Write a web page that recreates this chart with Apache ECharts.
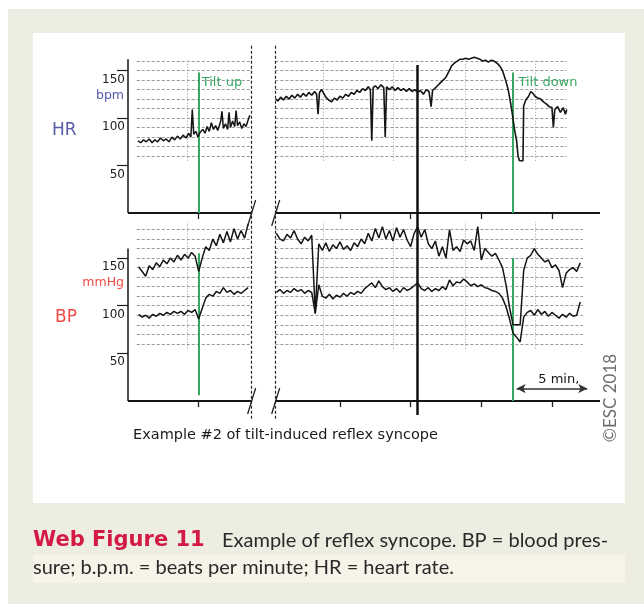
<!DOCTYPE html>
<html><head><meta charset="utf-8">
<script src="https://cdn.jsdelivr.net/npm/echarts@6.0.0/dist/echarts.min.js"></script>
<style>
html,body{margin:0;padding:0;background:#fff;}
#outer{position:absolute;left:8px;top:9px;width:636px;height:595px;background:#eeede2;}
#panel{position:absolute;left:33px;top:33px;width:592px;height:470px;background:#fff;}
#band{position:absolute;left:33px;top:555px;width:592px;height:28px;background:#f6f3e8;}
#chart{position:absolute;left:0;top:0;width:644px;height:604px;}
</style></head><body>
<div id="outer"></div><div id="panel"></div><div id="band"></div>
<div id="chart"></div>
<script>
// ---------- DATA (minutes on x, bpm / mmHg on y) ----------
const hrSeg1 = [[0.7,76],[0.9,74],[1.1,77],[1.3,75],[1.5,78],[1.7,74],[1.9,77],[2.1,75],[2.3,79],[2.5,76],[2.7,78],[2.9,75],[3.1,80],[3.3,77],[3.5,81],[3.7,78],[3.9,82],[4.1,79],[4.3,84],[4.45,80],[4.55,109],[4.65,83],[4.8,86],[4.95,80],[5.1,85],[5.3,88],[5.45,84],[5.6,91],[5.75,86],[5.9,95],[6.05,88],[6.2,92],[6.35,87],[6.55,96],[6.65,107],[6.75,89],[6.9,94],[7.05,88],[7.15,106],[7.25,90],[7.4,97],[7.55,91],[7.65,108],[7.75,92],[7.9,96],[8.05,89],[8.2,94],[8.35,91],[8.5,98],[8.62,103]];
const hrSeg2 = [[10.45,120],[10.6,118],[10.8,122],[11.0,119],[11.2,123],[11.4,120],[11.6,124],[11.8,121],[12.0,125],[12.2,122],[12.4,126],[12.6,123],[12.8,127],[13.0,124],[13.2,128],[13.35,125],[13.45,104],[13.55,127],[13.7,130],[13.85,126],[14.0,122],[14.2,119],[14.4,117],[14.6,121],[14.8,119],[15.0,123],[15.2,121],[15.4,125],[15.6,123],[15.8,127],[16.0,125],[16.2,129],[16.4,127],[16.6,131],[16.8,129],[17.0,133],[17.15,130],[17.25,76],[17.35,132],[17.5,134],[17.7,131],[17.9,135],[18.1,132],[18.2,80],[18.3,133],[18.5,130],[18.7,133],[18.9,129],[19.1,132],[19.3,129],[19.5,131],[19.7,128],[19.9,131],[20.1,128],[20.3,130],[20.5,127],[20.7,129],[20.9,125],[21.1,130],[21.3,128],[21.45,112],[21.55,129],[21.7,131],[21.9,134],[22.1,137],[22.3,140],[22.5,143],[22.7,149],[22.9,155],[23.1,158],[23.3,160],[23.5,162],[23.7,162],[23.9,163],[24.1,162],[24.3,163],[24.5,164],[24.7,163],[24.9,162],[25.1,160],[25.3,161],[25.5,159],[25.7,161],[25.9,160],[26.1,158],[26.3,155],[26.5,150],[26.7,141],[26.9,130],[27.05,118],[27.2,104],[27.35,88],[27.5,76],[27.6,60],[27.7,55],[27.95,55],[28.0,113],[28.15,119],[28.35,123],[28.5,128],[28.65,126],[28.8,123],[29.0,121],[29.2,120],[29.4,117],[29.6,115],[29.8,112],[30.0,111],[30.1,90],[30.2,109],[30.4,112],[30.6,106],[30.8,111],[30.95,104],[31.05,109]];

const bpStep = 0.25;
const bpSeg1Start = 0.75;
const bpSeg2Start = 10.5;
const bpSysSeg1 = [141,136,131,142,138,145,141,148,144,150,146,153,148,154,150,156,152,136,150,162,158,170,163,175,166,178,167,181,170,179,171,186];
const bpDiaSeg1 = [91,88,90,87,91,89,92,90,93,91,94,92,94,91,95,93,96,86,97,108,112,110,115,113,119,114,116,112,115,113,116,119];
const bpSysSeg2 = [176,170,168,175,171,179,170,165,172,168,174,92,165,158,166,157,164,160,167,159,163,158,166,162,170,165,176,168,181,171,183,170,179,168,182,172,180,169,162,176,183,172,180,165,160,168,152,162,150,180,158,162,157,169,165,168,158,183,148,160,156,152,155,148,140,122,98,80,80,80,137,150,153,160,154,150,146,148,140,143,137,119,134,138,140,136,145];
const bpDiaSeg2 = [114,117,113,116,114,118,115,117,113,116,114,92,122,110,108,112,107,111,109,113,110,114,112,115,113,118,121,124,119,126,120,117,119,115,118,114,119,116,118,121,124,118,116,119,115,118,116,120,117,127,121,125,124,128,125,121,123,120,122,119,118,116,115,113,108,99,86,71,67,62,88,93,95,90,96,91,94,89,93,90,87,91,88,92,89,90,104];

const yTicks = [50, 100, 150];
const xTicks = [5, 15, 20, 25, 30];
const hrGridLevels = [60,70,80,90,100,110,120,130,140,150,160];
const bpGridLevels = [60,70,80,90,100,110,120,130,140,150,160,170,180];
const timeGridLines = [4.2, 13.8, 18.8, 23.85, 28.85];
const tiltUp = 5.0, tiltDown = 27.2, markerTime = 20.5;
const breakStart = 8.7, breakEnd = 10.43;
const slashTimes = [8.75, 10.45];
const scaleBar = [27.5, 32.5];
const X_MAX = 33.4;

// ---------- BUILD ----------
const F = "'DejaVu Sans', Verdana, sans-serif";
const INK = '#151515';
const GREEN = '#35a862';
const GRIDC = '#9a9a9a';

function pairs(start, vals){ return vals.map((v,i)=>[start + i*bpStep, v]); }

function xAx(gi, ticks){
  return {type:'value', gridIndex:gi, min:0, max:X_MAX, axisLine:{show:false}, splitLine:{show:false},
    axisLabel:{show:false}, axisTick:{show:ticks, customValues:xTicks, length:6, lineStyle:{color:'#222', width:1.3}}};
}
function yAx(gi, max){
  return {type:'value', gridIndex:gi, min:0, max:max, axisLine:{show:false}, splitLine:{show:false},
    axisTick:{show:true, customValues:yTicks, length:11, lineStyle:{color:'#222', width:1.2}},
    axisLabel:{show:true, customValues:yTicks, margin:3, verticalAlign:'top', padding:[3,0,0,0],
      fontFamily:F, fontSize:12, color:'#1a1a1a'}};
}
function seg(a, b, style){ return [{coord:a, lineStyle:style}, {coord:b}]; }
function markLines(data){ return {silent:true, symbol:['none','none'], label:{show:false}, emphasis:{disabled:true}, animation:false, data}; }

function gridLines(levels, tEnd, vLow, vHigh){
  const out = [];
  const hs = {color:GRIDC, width:1, type:[3,2]};
  levels.forEach(l=>{
    out.push(seg([0.62,l],[breakStart,l],hs));
    out.push(seg([breakEnd,l],[tEnd,l],hs));
  });
  const vs = {color:GRIDC, width:1, type:[1,2]};
  timeGridLines.forEach(t=> out.push(seg([t,vLow],[t,vHigh],vs)));
  return out;
}
function axisLines(yTop){
  const s = {color:INK, width:1.8, type:'solid'};
  return [seg([0,0],[0,yTop],{color:INK,width:1.5,type:'solid'}), seg([0,0],[breakStart,0],s), seg([breakEnd,0],[X_MAX,0],s)];
}

function trace(xi, data, w){
  return {type:'line', xAxisIndex:xi, yAxisIndex:xi, data, symbol:'none', showSymbol:false, z:5,
    lineStyle:{color:INK, width:w}, emphasis:{disabled:true}, silent:true, animation:false};
}
function holder(xi, ml, z, extra){
  return Object.assign({type:'line', xAxisIndex:xi, yAxisIndex:xi, data:[], symbol:'none', z:z, silent:true, animation:false, markLine:ml}, extra||{});
}
function slashes(xi){
  return {type:'custom', xAxisIndex:xi, yAxisIndex:xi, z:6, silent:true, animation:false,
    data: slashTimes.map(t=>[t,0]),
    renderItem:function(params, api){
      const p = api.coord([api.value(0), api.value(1)]);
      return {type:'line', shape:{x1:p[0]-4, y1:p[1]+13, x2:p[0]+4, y2:p[1]-13}, style:{stroke:'#222', lineWidth:1.3}};
    }};
}

const OV = {top:40, height:380, breakTop:0.985, breakBottom:0, markerTop:0.934, markerBottom:0.013};

const option = {
  animation:false,
  backgroundColor:'transparent',
  grid:[
    {left:128, top:44, width:472, height:169},
    {left:128, top:220, width:472, height:181},
    {left:128, top:OV.top, width:472, height:OV.height}
  ],
  xAxis:[xAx(0,true), xAx(1,true), Object.assign(xAx(2,false), {show:false})],
  yAxis:[yAx(0,178), yAx(1,190), {type:'value', gridIndex:2, min:0, max:1, show:false}],
  series:[
    holder(0, markLines(gridLines(hrGridLevels, 31.05, 55, 162)), 1),
    holder(1, markLines(gridLines(bpGridLevels, 32.2, 55, 188)), 1),
    holder(0, markLines(axisLines(162).concat([seg([tiltUp,148],[tiltUp,0],{color:GREEN,width:2,type:'solid'}), seg([tiltDown,148],[tiltDown,0],{color:GREEN,width:2,type:'solid'})])), 4, {
      markPoint:{silent:true, symbol:'circle', symbolSize:0, animation:false,
        label:{show:true, position:'right', formatter:'{b}', color:GREEN, fontFamily:F, fontSize:13},
        data:[{name:'Tilt up', coord:[tiltUp,137], label:{distance:3}}, {name:'Tilt down', coord:[tiltDown,137], label:{distance:6}}]}
    }),
    holder(1, markLines(axisLines(160).concat([seg([tiltUp,155],[tiltUp,6],{color:GREEN,width:2,type:'solid'}), seg([tiltDown,150],[tiltDown,0],{color:GREEN,width:2,type:'solid'})])), 4),
    holder(1, {silent:true, symbol:['arrow','arrow'], symbolSize:[7,9], animation:false,
      label:{show:true, position:'insideEndTop', formatter:'5 min,', color:INK, fontFamily:F, fontSize:13, distance:[8,2]},
      data:[[{coord:[scaleBar[0],13], lineStyle:{color:'#333', width:1.5, type:'solid'}},{coord:[scaleBar[1],13]}]]}, 4),
    holder(2, markLines([
      seg([breakStart+0.05,OV.breakTop],[breakStart+0.05,OV.breakBottom],{color:'#222',width:1.2,type:[3,2]}),
      seg([breakEnd,OV.breakTop],[breakEnd,OV.breakBottom],{color:'#222',width:1.2,type:[3,2]}),
      seg([markerTime,OV.markerTop],[markerTime,OV.markerBottom],{color:'#111',width:2.5,type:'solid'})
    ]), 7),
    trace(0, hrSeg1, 1.5), trace(0, hrSeg2, 1.6),
    trace(1, pairs(bpSeg1Start, bpSysSeg1), 1.5), trace(1, pairs(bpSeg2Start, bpSysSeg2), 1.5),
    trace(1, pairs(bpSeg1Start, bpDiaSeg1), 1.5), trace(1, pairs(bpSeg2Start, bpDiaSeg2), 1.5),
    slashes(0), slashes(1)
  ],
  graphic:[
    {type:'text', x:52, y:131, z:100, style:{text:'HR', font:"17px 'DejaVu Sans'", fill:'#5a5aa8', verticalAlign:'middle'}},
    {type:'text', x:124, y:96, z:100, style:{text:'bpm', font:"12.5px 'DejaVu Sans'", fill:'#5555b0', align:'right', verticalAlign:'middle'}},
    {type:'text', x:55, y:318, z:100, style:{text:'BP', font:"17px 'DejaVu Sans'", fill:'#ee4a45', verticalAlign:'middle'}},
    {type:'text', x:124, y:283, z:100, style:{text:'mmHg', font:"12.5px 'DejaVu Sans'", fill:'#ee4a45', align:'right', verticalAlign:'middle'}},
    {type:'text', x:133, y:435, z:100, style:{text:'Example #2 of tilt-induced reflex syncope', font:"14.5px 'DejaVu Sans'", fill:'#1a1a1a', verticalAlign:'middle'}},
    {type:'text', x:611, y:398, rotation:Math.PI/2, z:100, style:{text:'\u00A9ESC 2018', font:"17px Lato", fill:'#6e6e6e', align:'center', verticalAlign:'middle'}},
    {type:'text', x:33, y:541, z:100, style:{text:'Web Figure 11', font:"bold 21px 'DejaVu Sans'", fill:'#d21a45', verticalAlign:'middle'}},
    {type:'text', x:222, y:541, z:100, style:{text:'Example of reflex syncope. BP = blood pres-', font:"20px Lato", fill:'#2a2a2a', verticalAlign:'middle'}},
    {type:'text', x:33, y:568, z:100, style:{text:'sure; b.p.m. = beats per minute; HR = heart rate.', font:"20px Lato", fill:'#2a2a2a', verticalAlign:'middle'}}
  ]
};
const chart = echarts.init(document.getElementById('chart'), null, {renderer:'canvas'});
chart.setOption(option);
</script>
</body></html>
